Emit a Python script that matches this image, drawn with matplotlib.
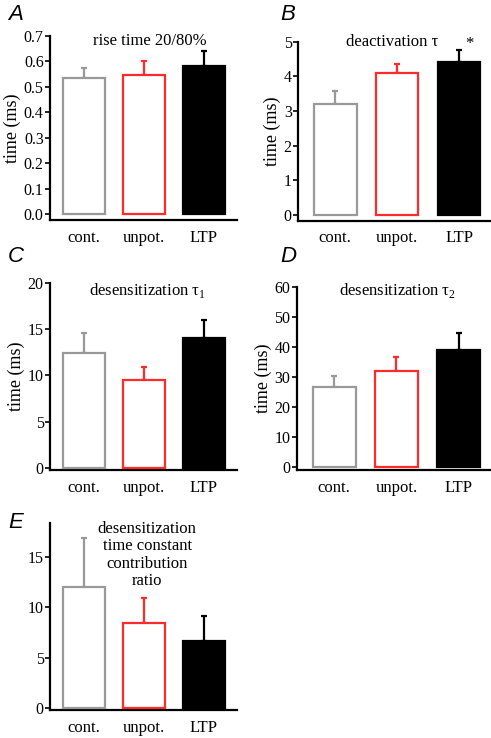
import numpy as np
import matplotlib
matplotlib.use("Agg")
import matplotlib.pyplot as plt

plt.rcParams["font.family"] = ["Liberation Serif", "DejaVu Serif"]
plt.rcParams["font.size"] = 11
plt.rcParams["mathtext.fontset"] = "custom"
plt.rcParams["mathtext.rm"] = "Liberation Serif"

groups = ["cont.", "unpot.", "LTP"]
colors = ["#999999", "#ff2a2a", "#000000"]

rise_mean = [0.534, 0.547, 0.582]
rise_err = [0.042, 0.054, 0.059]
deact_mean = [3.20, 4.10, 4.42]
deact_err = [0.39, 0.25, 0.34]
des1_mean = [12.4, 9.5, 14.1]
des1_err = [2.25, 1.45, 1.95]
des2_mean = [26.9, 32.1, 39.1]
des2_err = [3.5, 4.8, 5.6]
ratio_mean = [12.0, 8.5, 6.65]
ratio_err = [4.9, 2.4, 2.5]

W, H = 491, 738
fig = plt.figure(figsize=(W / 100, H / 100), dpi=100)


def make_axes(left, right, top, bottom):
    return fig.add_axes([left / W, 1 - bottom / H, (right - left) / W, (bottom - top) / H])


def panel(ax, means, errs, ylim, yticks, xlim, title, tx, ty, letter, lx, ly, ylabel=True):
    x = np.arange(len(means))
    for i in range(len(means)):
        face = colors[i] if i == 2 else "white"
        ax.bar(x[i], means[i], width=0.69, facecolor=face, edgecolor=colors[i], linewidth=1.6, zorder=3)
        ax.errorbar(x[i], means[i], yerr=[[0], [errs[i]]], fmt="none", ecolor=colors[i],
                    elinewidth=1.6, capsize=2.2, capthick=1.6, zorder=2)
    ax.set_xlim(*xlim)
    ax.set_ylim(*ylim)
    ax.set_yticks(yticks)
    ax.set_xticks(x)
    ax.set_xticklabels(groups, fontsize=12)
    for s in ["top", "right"]:
        ax.spines[s].set_visible(False)
    for s in ["left", "bottom"]:
        ax.spines[s].set_linewidth(1.6)
    ax.tick_params(axis="x", length=0, pad=7)
    ax.tick_params(axis="y", length=3.5, width=1.2, pad=1, labelsize=11.5)
    if ylabel:
        ax.set_ylabel("time (ms)", fontsize=13, labelpad=2)
    ax.text(tx, ty, title, transform=ax.transAxes, ha="center", va="center",
            fontsize=12, linespacing=1.1)
    fig.text(lx / W, 1 - ly / H, letter, family="Liberation Sans", style="italic",
             fontsize=16, ha="left", va="center")


axA = make_axes(50, 237, 36, 220)
panel(axA, rise_mean, rise_err, (-0.022, 0.7), np.round(np.arange(0, 0.71, 0.1), 1),
      (-0.567, 2.55), "rise time 20/80%", 0.535, 0.973, "A", 8, 14)
axA.set_yticklabels(["%.1f" % v for v in np.arange(0, 0.71, 0.1)])

axB = make_axes(298, 490, 41.7, 220.7)
panel(axB, deact_mean, deact_err, (-0.164, 5), [0, 1, 2, 3, 4, 5],
      (-0.6, 2.5), "deactivation τ", 0.49, 0.998, "B", 280, 14)
axB.text(0.89, 0.985, "*", transform=axB.transAxes, ha="center", va="center", fontsize=12)

axC = make_axes(50, 237, 283.3, 470)
panel(axC, des1_mean, des1_err, (-0.25, 20), [0, 5, 10, 15, 20],
      (-0.567, 2.55), "desensitization τ$_1$", 0.524, 0.964, "C", 8, 256)

axD = make_axes(296.7, 490, 287.3, 470)
panel(axD, des2_mean, des2_err, (-0.9, 60), [0, 10, 20, 30, 40, 50, 60],
      (-0.6, 2.5), "desensitization τ$_2$", 0.519, 0.985, "D", 280, 256)

axE = make_axes(50, 237, 523.3, 710)
panel(axE, ratio_mean, ratio_err, (-0.23, 18.4), [0, 5, 10, 15],
      (-0.567, 2.55), "desensitization\ntime constant\ncontribution\nratio", 0.52, 0.83,
      "E", 8, 523, ylabel=False)

fig.savefig("out.png", dpi=100)
